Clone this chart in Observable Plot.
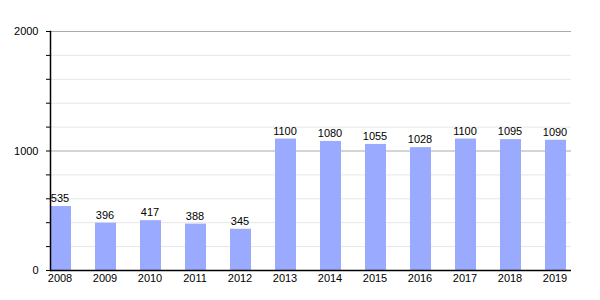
<!DOCTYPE html>
<html>
<head>
<meta charset="utf-8">
<script src="https://cdn.jsdelivr.net/npm/d3@7"></script>
<script src="https://cdn.jsdelivr.net/npm/@observablehq/plot@0.6"></script>
<style>
  body { margin: 0; background: #fff; }
</style>
</head>
<body>
<div id="chart"></div>
<script>
const years = ["2008","2009","2010","2011","2012","2013","2014","2015","2016","2017","2018","2019"];
const values = [535, 396, 417, 388, 345, 1100, 1080, 1055, 1028, 1100, 1095, 1090];
const majorTicks = [0, 1000, 2000];
const minorTicks = [200, 400, 600, 800, 1200, 1400, 1600, 1800];
const allTicks = [0, 200, 400, 600, 800, 1000, 1200, 1400, 1600, 1800, 2000];

const data = years.map((y, i) => ({year: y, value: values[i]}));

const chart = Plot.plot({
  width: 600,
  height: 300,
  marginLeft: 50,
  marginRight: 29,
  marginTop: 31,
  marginBottom: 30,
  style: {fontFamily: "Liberation Sans, Arial, sans-serif", fontSize: "11px", color: "#000", background: "#fff"},
  x: {type: "band", domain: years, paddingInner: 0.538, paddingOuter: 0, align: 0, label: null},
  y: {domain: [0, 2000], label: null},
  marks: [
    Plot.ruleY(minorTicks, {stroke: "#e6e6e6", strokeWidth: 1}),
    Plot.ruleY(majorTicks.filter(d => d > 0), {stroke: "#aaaaaa", strokeWidth: 1}),
    Plot.barY(data, {x: "year", y: "value", fill: "#99aaff"}),
    Plot.text(data, {x: "year", y: "value", text: d => String(d.value), dy: -8, dx: -1, fill: "#000", fontSize: 11}),
    Plot.axisY({ticks: allTicks, tickSize: 4, tickPadding: 8, tickFormat: d => majorTicks.includes(d) ? String(d) : "", stroke: "#000", fill: "#000", fontSize: 11}),
    Plot.axisX({tickSize: 0, tickPadding: 4, dx: -1, fill: "#000", fontSize: 11}),
    Plot.ruleY([0], {stroke: "#000", strokeWidth: 1.5}),
    Plot.frame({anchor: "left", stroke: "#000", strokeWidth: 1.5})
  ]
});
document.getElementById("chart").appendChild(chart);
</script>
</body>
</html>
